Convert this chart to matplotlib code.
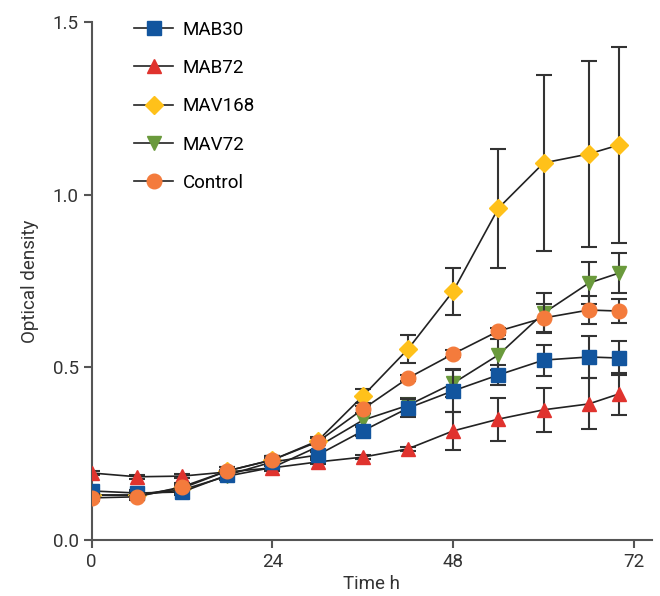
import numpy as np
import matplotlib
matplotlib.use("Agg")
import matplotlib.pyplot as plt

plt.rcParams['font.family'] = ['Roboto', 'DejaVu Sans']

time_h = [0, 6, 12, 18, 24, 30, 36, 42, 48, 54, 60, 66, 70]

mab30 = [0.142, 0.136, 0.139, 0.188, 0.226, 0.246, 0.316, 0.382, 0.432, 0.478, 0.521, 0.530, 0.527]
mab30_err = [0.01, 0.01, 0.01, 0.01, 0.01, 0.01, 0.015, 0.027, 0.06, 0.03, 0.045, 0.062, 0.05]

mab72 = [0.194, 0.183, 0.185, 0.197, 0.209, 0.226, 0.240, 0.264, 0.316, 0.350, 0.377, 0.394, 0.423]
mab72_err = [0.005, 0.005, 0.005, 0.005, 0.005, 0.005, 0.005, 0.005, 0.054, 0.062, 0.063, 0.074, 0.062]

mav168 = [0.13, 0.13, 0.15, 0.20, 0.232, 0.287, 0.417, 0.553, 0.721, 0.961, 1.092, 1.118, 1.144]
mav168_err = [0.01, 0.01, 0.01, 0.01, 0.01, 0.01, 0.02, 0.04, 0.068, 0.172, 0.255, 0.27, 0.283]

mav72 = [0.13, 0.13, 0.145, 0.185, 0.21, 0.27, 0.347, 0.39, 0.454, 0.536, 0.657, 0.744, 0.773]
mav72_err = [0.01, 0.01, 0.01, 0.01, 0.01, 0.01, 0.02, 0.02, 0.04, 0.045, 0.058, 0.06, 0.058]

control = [0.122, 0.125, 0.154, 0.200, 0.232, 0.284, 0.379, 0.469, 0.539, 0.605, 0.643, 0.666, 0.663]
control_err = [0.01, 0.01, 0.01, 0.01, 0.01, 0.01, 0.01, 0.01, 0.01, 0.01, 0.04, 0.04, 0.036]

series = [
    ("MAV72", mav72, mav72_err, "v", "#6a9a3c", 9.5),
    ("MAV168", mav168, mav168_err, "D", "#ffc11a", 9),
    ("MAB72", mab72, mab72_err, "^", "#e0332e", 9.5),
    ("MAB30", mab30, mab30_err, "s", "#12559e", 9.5),
    ("Control", control, control_err, "o", "#f47b3c", 10.5),
]
legend_order = ["MAB30", "MAB72", "MAV168", "MAV72", "Control"]

fig = plt.figure(figsize=(6.6, 5.96), dpi=100)
ax = fig.add_axes([0.139, 0.094, 0.849, 0.869])

handles = {}
for i, (name, y, err, mk, col, ms) in enumerate(series):
    eb = ax.errorbar(time_h, y, yerr=err, color="#222222", lw=1.2,
                     elinewidth=1.5, ecolor="#333333", capsize=6, capthick=1.5,
                     marker=mk, markersize=ms, markerfacecolor=col,
                     markeredgecolor=col, zorder=2 + i)
    handles[name] = eb[0]

ax.legend([handles[n] for n in legend_order], legend_order, loc="upper left",
          bbox_to_anchor=(0.045, 1.035), frameon=False, fontsize=13.5,
          labelspacing=1.08, handlelength=2.1, handletextpad=0.5)

ax.set_xlim(0, 74.4)
ax.set_ylim(0, 1.5)
ax.set_xticks([0, 24, 48, 72])
ax.set_yticks([0.0, 0.5, 1.0, 1.5])
ax.set_yticklabels(["0.0", "0.5", "1.0", "1.5"])
ax.set_xlabel("Time h", fontsize=13.5, labelpad=3, color="#333333")
ax.set_ylabel("Optical density", fontsize=13.5, labelpad=10, color="#333333")

for s in ["top", "right"]:
    ax.spines[s].set_visible(False)
for s in ["left", "bottom"]:
    ax.spines[s].set_color("#555555")
    ax.spines[s].set_linewidth(1.5)
ax.tick_params(colors="#555555", labelcolor="#333333", labelsize=13.5,
               width=1.5, length=6)

fig.savefig("out.png", dpi=100)
